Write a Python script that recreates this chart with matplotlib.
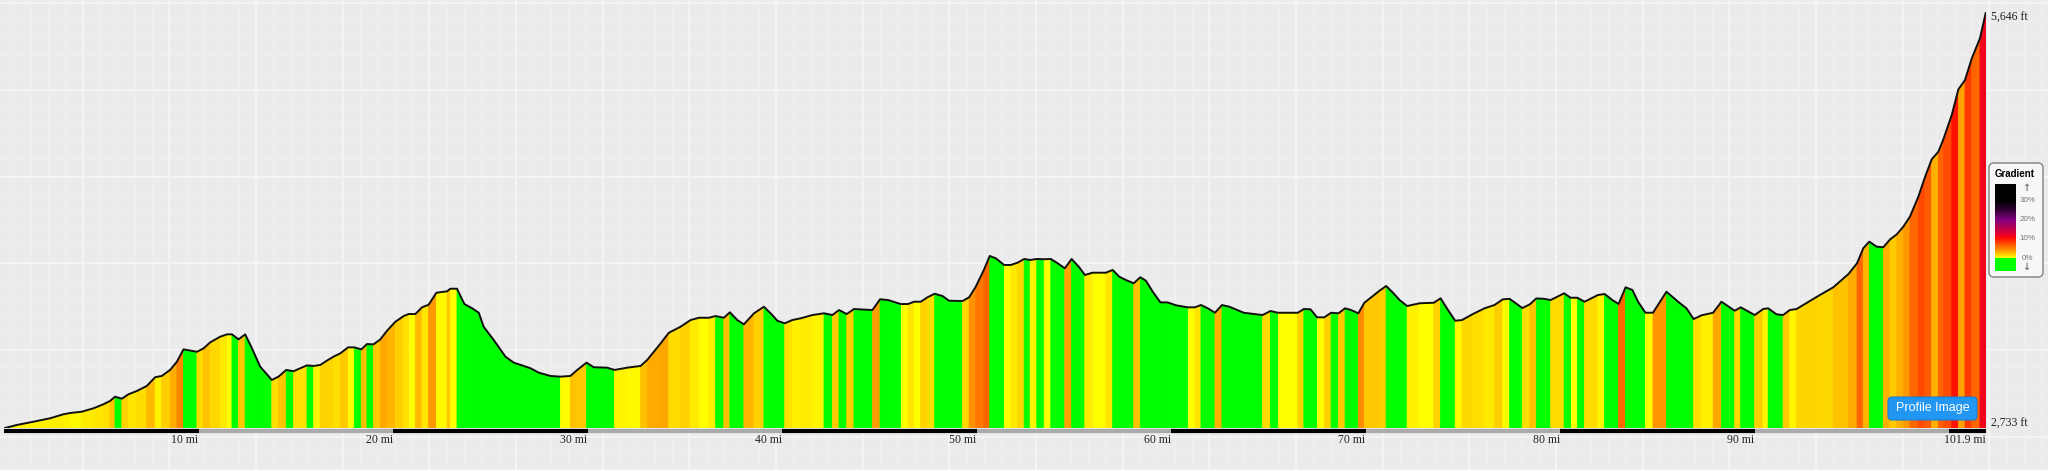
import numpy as np
import matplotlib
matplotlib.use("Agg")
import matplotlib.pyplot as plt
from matplotlib.colors import LinearSegmentedColormap, Normalize
from matplotlib.collections import PolyCollection
from matplotlib.patches import FancyBboxPatch, Rectangle

# route profile: distance (mi) and elevation (ft)
dist_mi = [0.00, 0.65, 1.51, 2.37, 3.05, 3.40, 4.00, 4.60, 5.11, 5.45, 5.71, 6.06, 6.40, 6.83,
           7.34, 7.77, 8.11, 8.54, 8.89, 9.23, 9.92, 10.26, 10.60, 11.11, 11.46, 11.72, 12.06,
           12.40, 12.75, 13.17, 13.77, 14.11, 14.51, 14.89, 15.23, 15.58, 15.92, 16.26, 16.60,
           16.94, 17.29, 17.69, 18.01, 18.37, 18.66, 19.00, 19.35, 19.69, 20.12, 20.55, 20.80,
           21.15, 21.49, 21.83, 22.23, 22.78, 22.95, 23.29, 23.67, 24.07, 24.41, 24.66, 25.18,
           25.78, 26.21, 27.07, 27.49, 28.10, 28.61, 29.12, 29.47, 29.95, 30.32, 31.01, 31.39,
           32.04, 32.73, 33.07, 33.76, 34.18, 34.78, 35.30, 35.73, 36.24, 36.59, 37.01, 37.32,
           37.70, 38.04, 38.56, 39.07, 39.50, 39.76, 40.14, 40.53, 40.96, 41.56, 42.16, 42.59,
           42.93, 43.33, 43.70, 44.65, 45.04, 45.45, 46.10, 46.48, 46.79, 47.13, 47.48, 47.85,
           48.25, 48.59, 49.28, 49.62, 49.96, 50.36, 50.68, 50.99, 51.42, 51.76, 52.11, 52.45,
           52.76, 53.10, 53.48, 53.82, 54.17, 54.54, 54.89, 55.28, 55.57, 55.97, 56.65, 57.00,
           57.34, 57.68, 58.08, 58.42, 58.71, 59.06, 59.45, 59.83, 60.26, 60.86, 61.23, 61.54,
           61.89, 62.26, 62.62, 63.00, 63.74, 64.71, 65.11, 65.49, 66.52, 66.83, 67.17, 67.51,
           67.88, 68.23, 68.61, 68.95, 69.26, 69.63, 69.94, 70.38, 70.72, 71.06, 71.41, 71.75,
           72.14, 72.77, 73.51, 73.86, 74.24, 74.61, 74.96, 75.52, 76.12, 76.63, 77.06, 77.41,
           78.06, 78.44, 78.78, 79.14, 79.52, 80.21, 80.54, 80.89, 81.26, 81.95, 82.29, 82.69,
           83.01, 83.37, 83.72, 84.01, 84.39, 84.78, 85.47, 86.07, 86.50, 86.87, 87.27, 87.87,
           88.30, 88.98, 89.29, 90.01, 90.44, 90.70, 91.13, 91.47, 91.81, 92.16, 92.59, 93.27,
           94.05, 94.83, 95.27, 95.59, 95.90, 96.28, 96.62, 96.97, 97.31, 97.65, 97.99, 98.42,
           98.77, 99.11, 99.45, 99.71, 100.14, 100.48, 100.82, 101.17, 101.59, 101.90]
elev_ft = [2733, 2756, 2779, 2803, 2831, 2840, 2849, 2873, 2901, 2924, 2954, 2940, 2971, 2994,
           3029, 3090, 3099, 3141, 3199, 3285, 3268, 3292, 3334, 3373, 3390, 3390, 3355,
           3390, 3292, 3164, 3071, 3094, 3141, 3132, 3153, 3173, 3169, 3176, 3206,
           3234, 3257, 3299, 3299, 3285, 3322, 3320, 3355, 3415, 3478, 3518, 3532,
           3532, 3579, 3597, 3681, 3691, 3709, 3709, 3602, 3572, 3541, 3443, 3350,
           3234, 3192, 3153, 3122, 3099, 3094, 3099, 3141, 3192, 3160, 3157, 3141,
           3157, 3169, 3211, 3327, 3401, 3443, 3490, 3506, 3506, 3518, 3506, 3544,
           3490, 3460, 3537, 3583, 3525, 3485, 3467, 3490, 3502, 3525, 3537, 3525,
           3560, 3532, 3567, 3560, 3635, 3630, 3602, 3602, 3618, 3618, 3649, 3674,
           3658, 3625, 3623, 3649, 3723, 3835, 3938, 3922, 3875, 3875, 3891, 3917,
           3910, 3917, 3915, 3917, 3887, 3852, 3917, 3859, 3805, 3821, 3821, 3840,
           3793, 3770, 3747, 3789, 3765, 3688, 3614, 3613, 3593, 3579, 3579, 3595,
           3572, 3541, 3595, 3583, 3541, 3525, 3553, 3541, 3541, 3567, 3565, 3509,
           3509, 3541, 3537, 3572, 3560, 3537, 3611, 3658, 3695, 3728, 3681, 3630,
           3588, 3607, 3611, 3642, 3560, 3485, 3490, 3532, 3572, 3595, 3635, 3638,
           3574, 3599, 3641, 3639, 3630, 3677, 3646, 3646, 3618, 3665, 3672, 3630,
           3602, 3719, 3700, 3618, 3541, 3541, 3688, 3618, 3572, 3497, 3523, 3541,
           3618, 3555, 3579, 3525, 3567, 3572, 3530, 3525, 3560, 3567, 3602, 3658,
           3719, 3812, 3887, 3992, 4038, 4003, 3999, 4054, 4089, 4143, 4213, 4352,
           4492, 4614, 4667, 4754, 4924, 5103, 5168, 5320, 5460, 5646]

mile_ticks = [10, 20, 30, 40, 50, 60, 70, 80, 90]
legend_ticks = [30, 20, 10, 0]

grade_cmap = LinearSegmentedColormap.from_list("grade", [
    (0.0, "#ffff00"), (1 / 30, "#ffe400"), (2 / 30, "#ffc800"), (4 / 30, "#ff9500"),
    (6 / 30, "#ff6a00"), (8 / 30, "#ff4000"), (10 / 30, "#ff1000"), (12 / 30, "#e8002a"),
    (20 / 30, "#800080"), (25 / 30, "#300030"), (1.0, "#000000")])
norm = Normalize(0, 30, clip=True)

W, H = 2048, 470
fig = plt.figure(figsize=(W / 100, H / 100), dpi=100)
fig.patch.set_facecolor("#ebebeb")

# background grid, in pixel space
bg = fig.add_axes([0, 0, 1, 1])
bg.set_xlim(0, W)
bg.set_ylim(H, 0)
bg.axis("off")
for x in np.arange(82.7 - 5 * 17.333, W, 17.333):
    bg.axvline(x, color="#f0f0f0", lw=0.8)
for y in np.arange(3.3, H, 17.333):
    bg.axhline(y, color="#f0f0f0", lw=0.8)
for x in np.arange(82.7 - 86.67, W, 86.67):
    bg.axvline(x, color="#f5f5f5", lw=1.3)
for y in np.arange(3.3, H, 86.67):
    bg.axhline(y, color="#f5f5f5", lw=1.3)

# profile
d = np.array(dist_mi)
e = np.array(elev_ft)
base = min(elev_ft)
top = max(elev_ft)
ax = fig.add_axes([4 / W, (H - 428.3) / H, 1982 / W, 416.6 / H])
ax.set_xlim(0, d[-1])
ax.set_ylim(base, top)
ax.axis("off")

grade = np.diff(e) / (np.diff(d) * 5280) * 100
cols = [(0, 1, 0, 1) if g < 0 else grade_cmap(norm(g)) for g in grade]
verts = [[(d[i], base), (d[i], e[i]), (d[i + 1], e[i + 1]), (d[i + 1], base)]
         for i in range(len(d) - 1)]
ax.add_collection(PolyCollection(verts, facecolors=cols, edgecolors=cols, linewidths=0.6))
ax.plot(d, e, color="#111111", lw=1.4, solid_joinstyle="round")

# distance bar and labels
ft_per_px = (top - base) / 416.6
bar_y = base - 2.4 * ft_per_px
lab_y = base - 12 * ft_per_px
starts = list(range(0, int(d[-1]) + 1, 10))
for i, s in enumerate(starts):
    ax.plot([s, min(s + 10, d[-1])], [bar_y, bar_y], color="#000000" if i % 2 == 0 else "#aaaaaa",
            lw=3.0, solid_capstyle="butt", clip_on=False)
for t in mile_ticks:
    ax.text(t, lab_y, f"{t} mi", ha="right", va="center", fontsize=8.5,
            family="Liberation Serif", color="#222222", clip_on=False)
ax.text(d[-1], lab_y, f"{d[-1]:.1f} mi", ha="right", va="center", fontsize=8.5,
        family="Liberation Serif", color="#222222", clip_on=False)
ax.annotate(f"{top:,} ft", xy=(d[-1], top), xytext=(5, -6), textcoords="offset pixels",
            ha="left", va="center", fontsize=8.5, family="Liberation Serif", color="#222222",
            annotation_clip=False)
ax.annotate(f"{base:,} ft", xy=(d[-1], base), xytext=(5, 5), textcoords="offset pixels",
            ha="left", va="center", fontsize=8.5, family="Liberation Serif", color="#222222",
            annotation_clip=False)

# overlay: legend and button
ov = fig.add_axes([0, 0, 1, 1])
ov.axis("off")
ov.add_patch(FancyBboxPatch((1989, 163), 54, 114, boxstyle="round,pad=0,rounding_size=5",
                            facecolor="#f7f7f7", edgecolor="#8a8a8a", lw=1.1, zorder=1))
ov.text(2015, 174, "Gradient", ha="center", va="center", fontsize=7, fontweight="bold",
        family="Liberation Sans", zorder=4)
px_per_pct = 1.93
bar_bottom = 258
bar_vals = np.linspace((bar_bottom - 184) / px_per_pct, 0, 200)[:, None]
ov.imshow(bar_vals, cmap=grade_cmap, norm=norm, extent=[1995, 2016, bar_bottom, 184],
          aspect="auto", interpolation="bilinear", zorder=3)
ov.add_patch(Rectangle((1995, bar_bottom), 21, 13, facecolor="#00ff00", edgecolor="none",
                       zorder=3))
for g in legend_ticks:
    ov.text(2027.5, bar_bottom - g * px_per_pct, f"{g}%", ha="center", va="center",
            fontsize=5.8, color="#777777", family="Liberation Sans", zorder=4)
ov.text(2026, 188, "\u2191", ha="center", va="center", fontsize=7, color="#777777",
        fontweight="bold", family="DejaVu Sans", zorder=4)
ov.text(2026, 267, "\u2193", ha="center", va="center", fontsize=7, color="#777777",
        fontweight="bold", family="DejaVu Sans", zorder=4)

ov.add_patch(FancyBboxPatch((1888, 397), 89, 23, boxstyle="round,pad=0,rounding_size=4",
                            facecolor="#2196f3", edgecolor="#1b7fd0", lw=0.8, zorder=3))
ov.text(1932.5, 408.5, "Profile Image", ha="center", va="center", fontsize=9, color="white",
        family="Liberation Sans", zorder=4)
ov.set_xlim(0, W)
ov.set_ylim(H, 0)

fig.savefig("out.png", dpi=100, facecolor=fig.get_facecolor())
